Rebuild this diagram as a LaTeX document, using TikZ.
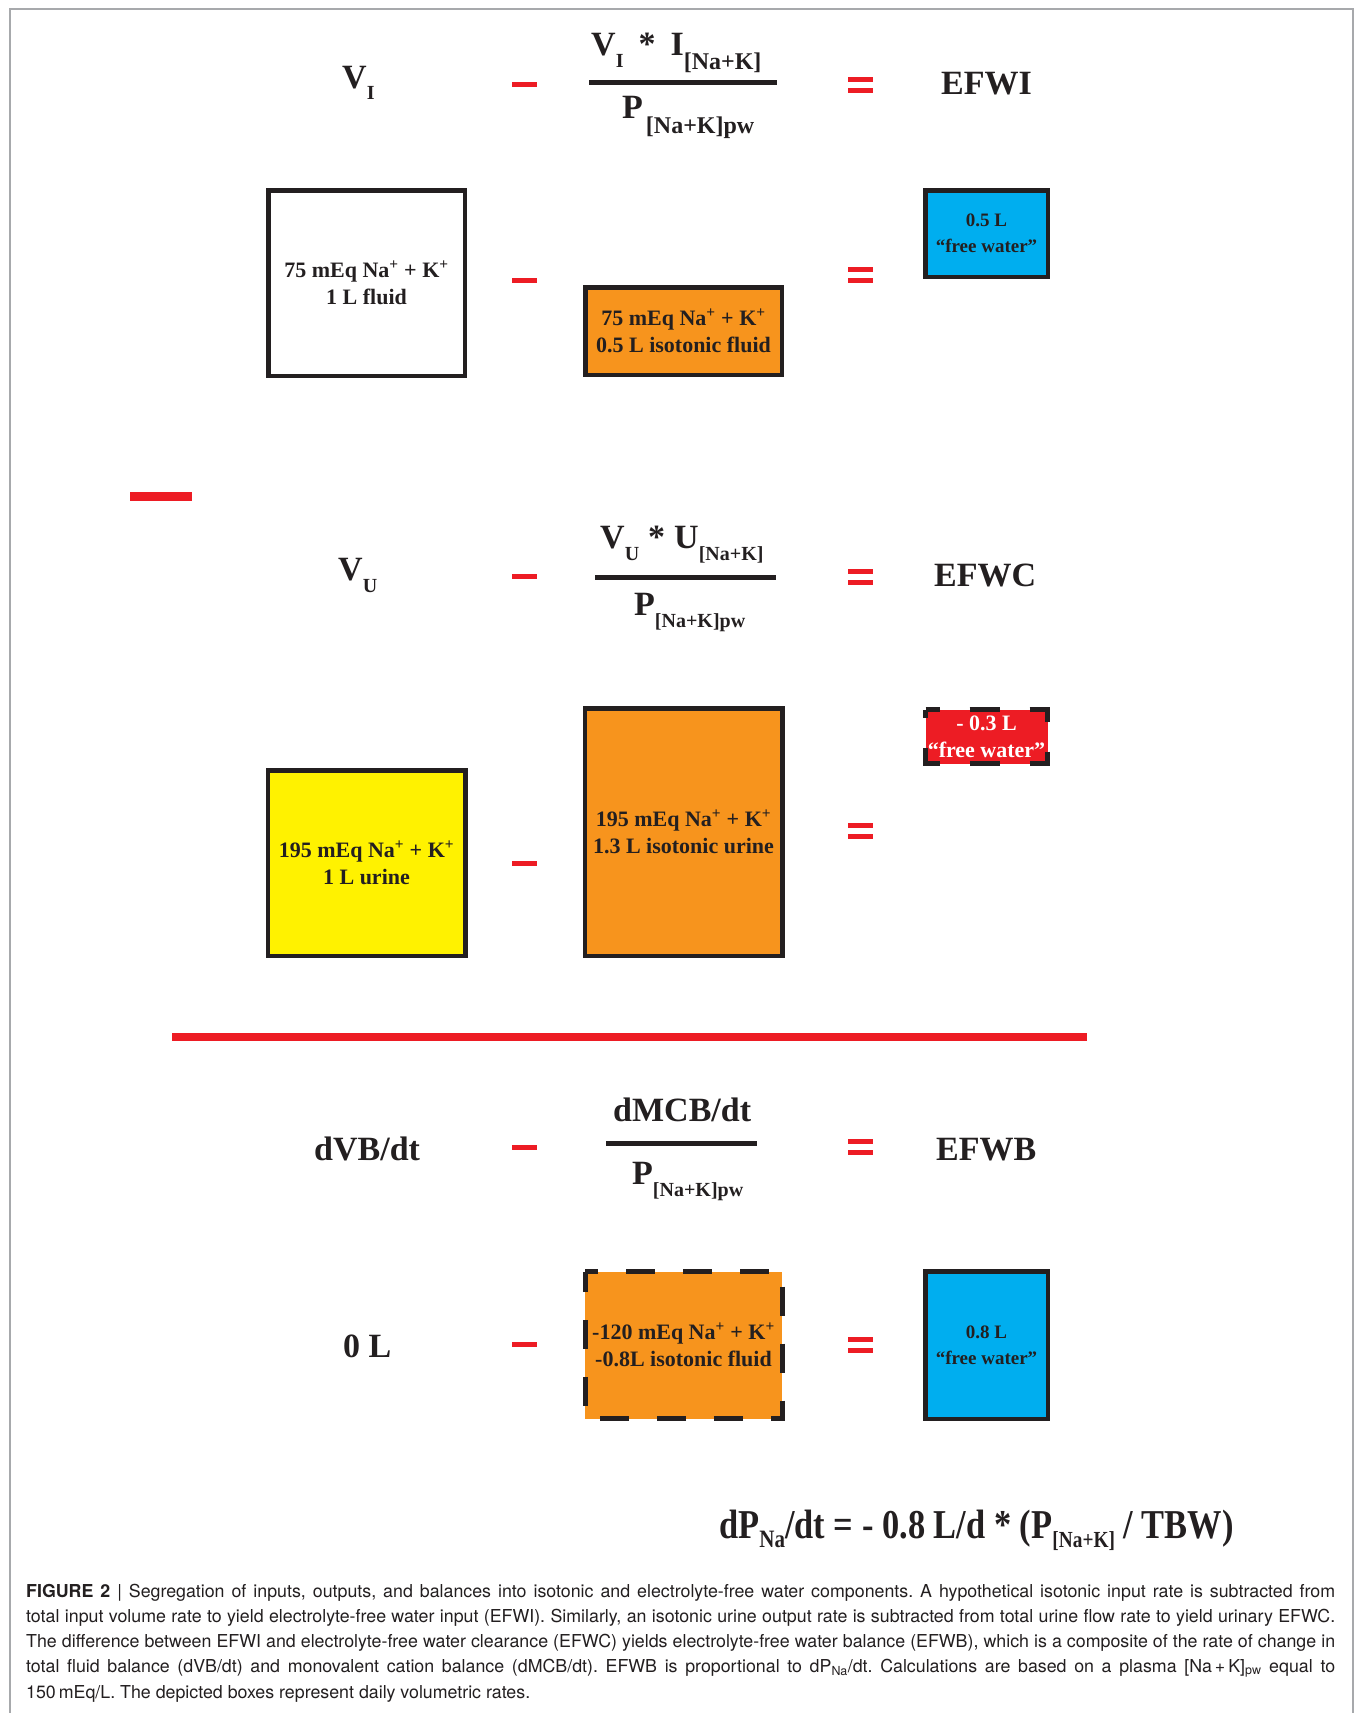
\documentclass[tikz,border=0pt]{standalone}
\usepackage{fontspec}
\setmainfont{Liberation Serif}
\newfontfamily\condserif{Liberation Serif}[FakeStretch=0.84]
\newfontfamily\capsans{TeX Gyre Heros}
\usetikzlibrary{math}

\definecolor{efred}{HTML}{ED1C24}
\definecolor{eforange}{HTML}{F7941D}
\definecolor{efblue}{HTML}{00AEEF}
\definecolor{efyellow}{HTML}{FFF200}
\definecolor{efblack}{HTML}{231F20}
\definecolor{framegray}{HTML}{A7A9AC}

\newcommand{\EqFont}{\fontsize{34}{38}\selectfont\bfseries}
\newcommand{\BoxFont}{\fontsize{22}{27}\selectfont\bfseries}
\newcommand{\SmallBoxFont}{\fontsize{19}{26}\selectfont\bfseries}
\newcommand{\CapFont}{\capsans\fontsize{17.8}{25}\selectfont\frenchspacing}
\newcommand{\DropSub}[3]{\raisebox{-#1pt}{\fontsize{#2}{#2}\selectfont #3}}
\newcommand{\NaK}{Na\textsuperscript{+} + K\textsuperscript{+}}
\newcommand{\Times}[1]{\hspace{#1pt}*\hspace{#1pt}}

\tikzset{
    volbox/.style={draw=efblack, line width=4.5pt, inner sep=0pt, outer sep=0pt,
        align=center, text=efblack, font=\BoxFont},
    opbar/.style={fill=efred, inner sep=0pt, outer sep=0pt,
        minimum width=25pt, minimum height=5pt},
    eqtext/.style={anchor=base west, inner sep=0pt, text=efblack, font=\EqFont},
    fracbar/.style={draw=efblack, line width=5pt},
    dashedge/.style={draw=efblack, line width=5pt},
    capline/.style={anchor=base west, inner sep=0pt, text=efblack, font=\CapFont},
}

\newcommand{\MinusSign}[3]{\node[opbar] (#1) at (#2,#3) {};}
\newcommand{\EqualSign}[3]{%
    \node[opbar] (#1t) at (#2,#3-5.5) {};
    \node[opbar] (#1b) at (#2,#3+5.5) {};}

\begin{document}
\begin{tikzpicture}[x=1pt, y=-1pt]

% Position settings
\tikzmath{
    \ColA = 366.5;
    \ColB = 683.5;
    \ColC = 986.5;
    \MinusX = 524.5;
    \EqualX = 860.5;
}

\fill[white] (0,0) rectangle (1357,1713);
\useasboundingbox (0,0) rectangle (1357,1713);

% Frame
\coordinate (FrameBL) at (10,1720);
\coordinate (FrameTL) at (10,9);
\coordinate (FrameTR) at (1353,9);
\coordinate (FrameBR) at (1353,1720);
\draw[framegray, line width=2pt] (FrameBL) -- (FrameTL) -- (FrameTR) -- (FrameBR);

% First row: input
\node[eqtext] (VIn) at (342,88) {V\DropSub{11}{20}{I}};
\node[eqtext] (NumIn) at (591,55) {V\DropSub{12}{20}{I}\Times{15}I\DropSub{14}{24}{[Na+K]}};
\coordinate (BarInL) at (589,82.5);
\coordinate (BarInR) at (777,82.5);
\draw[fracbar] (BarInL) -- (BarInR);
\node[eqtext] (DenIn) at (622,118) {P\hspace{3pt}\DropSub{15}{24}{[Na+K]pw}};
\node[eqtext] (EFWI) at (941,94) {EFWI};
\MinusSign{MinIn}{\MinusX}{84.5}
\EqualSign{EqIn}{\EqualX}{84.5}

\node[volbox, minimum width=196.5pt, minimum height=185.5pt] (FluidIn) at (\ColA,283)
    {75 mEq \NaK\\1 L fluid};
\node[volbox, fill=eforange, minimum width=196.5pt, minimum height=87.5pt] (IsoIn) at (\ColB,331)
    {75 mEq \NaK\\0.5 L isotonic fluid};
\node[volbox, fill=efblue, font=\SmallBoxFont, minimum width=122.5pt, minimum height=86.5pt] (FreeIn) at (\ColC,233.5)
    {0.5 L\\“free water”};
\MinusSign{MinInBox}{\MinusX}{280}
\EqualSign{EqInBox}{\EqualX}{275}

% Big minus between the rows
\node[opbar, minimum width=62pt, minimum height=9pt] (RowMinus) at (161,496.5) {};

% Second row: urine
\node[eqtext] (VOut) at (338,580) {V\DropSub{12}{20}{U}};
\node[eqtext] (NumOut) at (600,548.5) {V\DropSub{12}{20}{U}\Times{9}U\DropSub{12}{20}{[Na+K]}};
\coordinate (BarOutL) at (595,577.5);
\coordinate (BarOutR) at (776,577.5);
\draw[fracbar] (BarOutL) -- (BarOutR);
\node[eqtext] (DenOut) at (634,615) {P\DropSub{12}{20}{[Na+K]pw}};
\node[eqtext] (EFWC) at (934,586) {EFWC};
\MinusSign{MinOut}{\MinusX}{576.5}
\EqualSign{EqOut}{\EqualX}{576.5}

\node[volbox, fill=efyellow, minimum width=197.5pt, minimum height=185.5pt] (UrineOut) at (\ColA,863)
    {195 mEq \NaK\\1 L urine};
\node[volbox, fill=eforange, minimum width=197.5pt, minimum height=247.5pt] (IsoOut) at (\ColB,832)
    {195 mEq \NaK\\1.3 L isotonic urine};
\node[volbox, draw=none, fill=efred, text=white, minimum width=122pt, minimum height=54pt] (FreeOut) at (\ColC,736.5)
    {- 0.3 L\\“free water”};
\draw[dashedge, dash pattern=on 30pt off 30pt, dash phase=16pt]
    (FreeOut.north west) -- (FreeOut.north east) -- (FreeOut.south east)
    -- (FreeOut.south west) -- cycle;
\MinusSign{MinOutBox}{\MinusX}{863}
\EqualSign{EqOutBox}{\EqualX}{831}

% Red rule
\coordinate (RuleL) at (172,1037);
\coordinate (RuleR) at (1087,1037);
\draw[efred, line width=8pt] (RuleL) -- (RuleR);

% Third row: balance
\node[eqtext] (DVB) at (314,1160) {dVB/dt};
\node[eqtext] (NumBal) at (613,1121) {dMCB/dt};
\coordinate (BarBalL) at (606,1143);
\coordinate (BarBalR) at (757,1143);
\draw[fracbar] (BarBalL) -- (BarBalR);
\node[eqtext] (DenBal) at (632,1184) {P\DropSub{12}{20}{[Na+K]pw}};
\node[eqtext] (EFWB) at (936,1160) {EFWB};
\MinusSign{MinBal}{\MinusX}{1147}
\EqualSign{EqBal}{\EqualX}{1147}

\node[eqtext] (ZeroL) at (343,1357) {0 L};
\node[volbox, draw=none, fill=eforange, minimum width=197pt, minimum height=147pt] (IsoBal) at (\ColB,1345)
    {-120 mEq \NaK\\-0.8L isotonic fluid};
\draw[dashedge, dash pattern=on 29pt off 28pt, dash phase=16pt]
    (IsoBal.north west) -- (IsoBal.north east) -- (IsoBal.south east)
    -- (IsoBal.south west) -- cycle;
\node[volbox, fill=efblue, font=\SmallBoxFont, minimum width=122.5pt, minimum height=147.5pt] (FreeBal) at (\ColC,1345)
    {0.8 L\\“free water”};
\MinusSign{MinBalBox}{\MinusX}{1344.5}
\EqualSign{EqBalBox}{\EqualX}{1344.5}

% Sodium formula
\node[eqtext, font=\condserif\fontsize{41}{45}\selectfont\bfseries] (DPNa) at (719,1538)
    {dP\DropSub{9}{25}{Na}/dt = - 0.8 L/d * (P\DropSub{9}{23}{[Na+K]} / TBW)};

% Caption
\node[capline] (Cap1) at (26,1597) {\hbox to 1309pt{\textbf{FIGURE 2} | Segregation of inputs, outputs, and balances into isotonic and electrolyte-free water components. A hypothetical isotonic input rate is subtracted from}};
\node[capline] (Cap2) at (26,1622) {\hbox to 1309pt{total input volume rate to yield electrolyte-free water input (EFWI). Similarly, an isotonic urine output rate is subtracted from total urine flow rate to yield urinary EFWC.}};
\node[capline] (Cap3) at (26,1647) {\hbox to 1309pt{The difference between EFWI and electrolyte-free water clearance (EFWC) yields electrolyte-free water balance (EFWB), which is a composite of the rate of change in}};
\node[capline] (Cap4) at (26,1672) {\hbox to 1309pt{total fluid balance (dVB/dt) and monovalent cation balance (dMCB/dt). EFWB is proportional to dP\textsubscript{Na}/dt. Calculations are based on a plasma [Na\,+\,K]\textsubscript{pw} equal to}};
\node[capline] (Cap5) at (26,1698) {150\,mEq/L. The depicted boxes represent daily volumetric rates.};

\end{tikzpicture}
\end{document}
